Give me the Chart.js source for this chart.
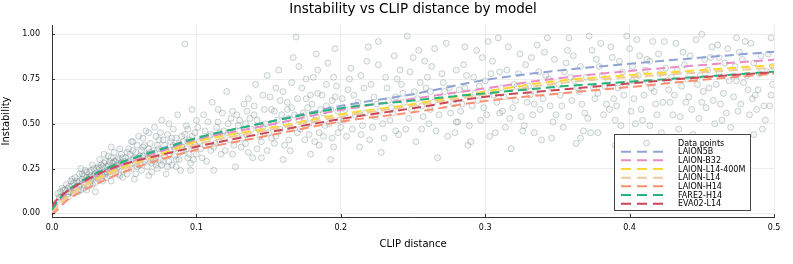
<!DOCTYPE html>
<html>
<head>
<meta charset="utf-8">
<script src="https://cdn.jsdelivr.net/npm/chart.js@4.4.1/dist/chart.umd.min.js"></script>
<style>
  html, body { margin: 0; padding: 0; background: #fff; }
  canvas { display: block; }
</style>
</head>
<body>
<canvas id="instabilityChart" width="793" height="264"></canvas>
<script>
// CLIP distance vs instability, one point per sample
const samplePoints = [
  [0.003,0.06],[0.004,0.11],[0.006,0.09],[0.007,0.14],[0.008,0.10],[0.009,0.13],[0.010,0.16],[0.011,0.09],[0.012,0.12],[0.013,0.18],
  [0.014,0.15],[0.015,0.11],[0.016,0.20],[0.017,0.14],[0.018,0.17],[0.019,0.22],[0.020,0.13],[0.021,0.19],[0.022,0.16],[0.023,0.24],
  [0.024,0.20],[0.025,0.15],[0.026,0.23],[0.027,0.18],[0.028,0.27],[0.029,0.21],[0.030,0.17],[0.031,0.25],[0.032,0.22],[0.033,0.30],
  [0.034,0.19],[0.035,0.26],[0.036,0.23],[0.037,0.29],[0.038,0.20],[0.039,0.32],[0.040,0.25],[0.041,0.18],[0.042,0.28],[0.043,0.34],
  [0.044,0.23],[0.045,0.30],[0.046,0.26],[0.047,0.21],[0.048,0.33],[0.049,0.28],[0.050,0.24],[0.015,0.17],[0.018,0.12],[0.022,0.21],
  [0.025,0.19],[0.028,0.16],[0.031,0.20],[0.034,0.27],[0.037,0.22],[0.040,0.29],[0.043,0.26],[0.046,0.31],[0.049,0.20],[0.012,0.15],
  [0.027,0.24],[0.033,0.25],[0.038,0.26],[0.044,0.29],[0.024,0.13],[0.036,0.33],[0.041,0.37],[0.047,0.36],[0.020,0.25],[0.030,0.12],
  [0.005,0.09],[0.006,0.12],[0.008,0.13],[0.009,0.08],[0.011,0.14],[0.013,0.12],[0.014,0.19],[0.016,0.14],[0.017,0.18],[0.019,0.15],
  [0.021,0.22],[0.023,0.17],[0.024,0.23],[0.026,0.18],[0.027,0.21],[0.029,0.25],[0.030,0.22],[0.032,0.19],[0.033,0.22],[0.035,0.21],
  [0.036,0.28],[0.038,0.23],[0.039,0.27],[0.040,0.21],[0.042,0.24],[0.043,0.29],[0.045,0.25],[0.046,0.22],[0.048,0.28],[0.049,0.31],
  [0.011,0.11],[0.019,0.18],[0.026,0.20],[0.032,0.26],[0.039,0.24],[0.045,0.27],[0.050,0.29],[0.022,0.14],[0.035,0.18],[0.041,0.31],
  [0.051,0.31],[0.052,0.22],[0.053,0.36],[0.054,0.27],[0.055,0.40],[0.056,0.30],[0.057,0.19],[0.058,0.34],[0.059,0.26],[0.060,0.43],
  [0.061,0.32],[0.062,0.24],[0.063,0.37],[0.064,0.29],[0.065,0.46],[0.066,0.33],[0.067,0.21],[0.068,0.39],[0.069,0.28],[0.070,0.35],
  [0.071,0.48],[0.072,0.31],[0.073,0.25],[0.074,0.41],[0.075,0.34],[0.076,0.52],[0.077,0.29],[0.078,0.38],[0.079,0.22],[0.080,0.44],
  [0.081,0.33],[0.082,0.40],[0.083,0.27],[0.084,0.47],[0.085,0.36],[0.086,0.30],[0.087,0.55],[0.088,0.39],[0.089,0.24],[0.090,0.43],
  [0.091,0.35],[0.092,0.946],[0.093,0.49],[0.094,0.31],[0.095,0.41],[0.096,0.28],[0.097,0.58],[0.098,0.37],[0.099,0.45],[0.100,0.33],
  [0.054,0.33],[0.058,0.28],[0.062,0.35],[0.066,0.26],[0.070,0.30],[0.074,0.36],[0.078,0.32],[0.082,0.35],[0.086,0.42],[0.090,0.37],
  [0.094,0.40],[0.098,0.30],[0.060,0.31],[0.068,0.34],[0.076,0.27],[0.084,0.38],[0.092,0.44],[0.064,0.38],[0.072,0.43],[0.080,0.26],
  [0.051,0.27],[0.052,0.34],[0.053,0.29],[0.055,0.25],[0.056,0.35],[0.057,0.31],[0.059,0.38],[0.061,0.27],[0.063,0.32],[0.065,0.30],
  [0.067,0.36],[0.069,0.33],[0.071,0.29],[0.073,0.38],[0.075,0.30],[0.077,0.41],[0.079,0.35],[0.081,0.29],[0.083,0.42],[0.085,0.32],
  [0.087,0.37],[0.089,0.34],[0.091,0.40],[0.093,0.36],[0.095,0.33],[0.097,0.43],[0.099,0.38],[0.056,0.40],[0.063,0.42],[0.069,0.23],
  [0.075,0.45],[0.081,0.50],[0.088,0.30],[0.094,0.47],[0.100,0.52],[0.058,0.22],[0.072,0.27],[0.086,0.26],[0.096,0.24],[0.067,0.45],
  [0.101,0.48],[0.103,0.36],[0.105,0.55],[0.107,0.29],[0.109,0.43],[0.111,0.62],[0.113,0.39],[0.115,0.51],[0.117,0.33],[0.119,0.46],
  [0.121,0.68],[0.123,0.41],[0.125,0.57],[0.127,0.26],[0.129,0.49],[0.131,0.37],[0.133,0.61],[0.135,0.44],[0.137,0.53],[0.139,0.31],
  [0.141,0.72],[0.143,0.47],[0.145,0.40],[0.147,0.58],[0.149,0.35],[0.151,0.65],[0.153,0.50],[0.155,0.43],[0.157,0.80],[0.159,0.55],
  [0.161,0.38],[0.163,0.62],[0.165,0.47],[0.167,0.87],[0.169,0.985],[0.171,0.52],[0.173,0.70],[0.175,0.41],[0.177,0.59],[0.179,0.33],
  [0.181,0.76],[0.183,0.54],[0.185,0.45],[0.187,0.66],[0.189,0.49],[0.191,0.84],[0.193,0.58],[0.195,0.37],[0.197,0.71],[0.199,0.52],
  [0.104,0.42],[0.110,0.35],[0.116,0.45],[0.122,0.50],[0.128,0.43],[0.134,0.39],[0.140,0.55],[0.146,0.48],[0.152,0.42],[0.158,0.63],
  [0.164,0.53],[0.170,0.45],[0.176,0.64],[0.182,0.40],[0.188,0.56],[0.194,0.63],[0.106,0.38],[0.118,0.56],[0.130,0.52],[0.142,0.36],
  [0.154,0.57],[0.166,0.73],[0.178,0.50],[0.190,0.60],[0.198,0.45],[0.112,0.24],[0.136,0.64],[0.160,0.30],[0.184,0.80],[0.196,0.92],
  [0.102,0.40],[0.104,0.31],[0.106,0.46],[0.108,0.51],[0.110,0.44],[0.112,0.37],[0.114,0.48],[0.116,0.40],[0.118,0.43],[0.120,0.35],
  [0.122,0.45],[0.124,0.53],[0.126,0.38],[0.128,0.55],[0.130,0.46],[0.132,0.42],[0.134,0.50],[0.136,0.34],[0.138,0.47],[0.140,0.60],
  [0.142,0.52],[0.144,0.43],[0.146,0.66],[0.148,0.50],[0.150,0.45],[0.152,0.58],[0.154,0.39],[0.156,0.52],[0.158,0.47],[0.160,0.68],
  [0.162,0.50],[0.164,0.41],[0.166,0.59],[0.168,0.55],[0.170,0.64],[0.172,0.47],[0.174,0.56],[0.176,0.75],[0.178,0.44],[0.180,0.61],
  [0.182,0.52],[0.184,0.67],[0.186,0.58],[0.188,0.43],[0.190,0.72],[0.192,0.50],[0.194,0.42],[0.196,0.65],[0.198,0.57],[0.200,0.48],
  [0.115,0.58],[0.125,0.33],[0.135,0.57],[0.145,0.31],[0.155,0.70],[0.165,0.35],[0.175,0.53],[0.185,0.38],[0.195,0.76],[0.149,0.77],
  [0.171,0.82],[0.183,0.89],[0.193,0.30],[0.163,0.58],[0.179,0.66],
  [0.201,0.64],[0.204,0.43],[0.207,0.81],[0.210,0.55],[0.213,0.37],[0.216,0.70],[0.219,0.93],[0.222,0.48],[0.225,0.61],[0.228,0.34],
  [0.231,0.76],[0.234,0.52],[0.237,0.88],[0.240,0.44],[0.243,0.67],[0.246,0.99],[0.249,0.58],[0.252,0.40],[0.255,0.73],[0.258,0.85],
  [0.261,0.50],[0.264,0.62],[0.267,0.31],[0.270,0.78],[0.273,0.95],[0.276,0.56],[0.279,0.45],[0.282,0.69],[0.285,0.83],[0.288,0.38],
  [0.291,0.60],[0.294,0.91],[0.297,0.52],[0.300,0.74],[0.303,0.43],[0.306,0.66],[0.309,0.98],[0.312,0.57],[0.315,0.80],[0.318,0.36],
  [0.321,0.63],[0.324,0.89],[0.327,0.49],[0.330,0.71],[0.333,0.55],[0.336,0.94],[0.339,0.41],[0.342,0.77],[0.345,0.60],[0.348,0.86],
  [0.203,0.58],[0.209,0.66],[0.215,0.49],[0.221,0.72],[0.227,0.57],[0.233,0.63],[0.239,0.75],[0.245,0.47],[0.251,0.68],[0.257,0.54],
  [0.263,0.82],[0.269,0.64],[0.275,0.70],[0.281,0.51],[0.287,0.77],[0.293,0.67],[0.299,0.59],[0.305,0.85],[0.311,0.70],[0.317,0.53],
  [0.323,0.78],[0.329,0.62],[0.335,0.68],[0.341,0.90],[0.347,0.51],[0.212,0.62],[0.230,0.42],[0.248,0.79],[0.266,0.46],[0.284,0.61],
  [0.302,0.96],[0.320,0.72],[0.338,0.58],[0.218,0.85],[0.236,0.56],[0.254,0.91],[0.272,0.68],[0.290,0.40],[0.308,0.62],[0.326,0.46],
  [0.344,0.75],
  [0.202,0.52],[0.205,0.69],[0.208,0.47],[0.211,0.60],[0.214,0.77],[0.217,0.56],[0.220,0.41],[0.223,0.65],[0.226,0.83],[0.229,0.50],
  [0.232,0.70],[0.235,0.59],[0.238,0.46],[0.241,0.80],[0.244,0.62],[0.247,0.53],[0.250,0.87],[0.253,0.64],[0.256,0.47],[0.259,0.70],
  [0.262,0.58],[0.265,0.92],[0.268,0.55],[0.271,0.73],[0.274,0.43],[0.277,0.66],[0.280,0.80],[0.283,0.57],[0.286,0.70],[0.289,0.49],
  [0.292,0.76],[0.295,0.63],[0.298,0.87],[0.301,0.55],[0.304,0.68],[0.307,0.45],[0.310,0.79],[0.313,0.65],[0.316,0.93],[0.319,0.59],
  [0.322,0.71],[0.325,0.54],[0.328,0.83],[0.331,0.66],[0.334,0.45],[0.337,0.79],[0.340,0.64],[0.343,0.98],[0.346,0.70],[0.349,0.55],
  [0.206,0.75],[0.224,0.54],[0.242,0.72],[0.260,0.76],[0.278,0.61],[0.296,0.71],[0.314,0.48],[0.332,0.87],[0.214,0.44],[0.238,0.65],
  [0.262,0.68],[0.286,0.93],[0.310,0.56],[0.334,0.61],[0.226,0.96],[0.256,0.60],[0.280,0.51],[0.304,0.78],[0.328,0.70],[0.346,0.42],
  [0.351,0.72],[0.354,0.48],[0.357,0.91],[0.360,0.63],[0.363,0.39],[0.366,0.82],[0.369,0.56],[0.372,0.99],[0.375,0.70],[0.378,0.45],
  [0.381,0.77],[0.384,0.61],[0.387,0.93],[0.390,0.52],[0.393,0.85],[0.396,0.66],[0.399,0.41],[0.402,0.74],[0.405,0.97],[0.408,0.58],
  [0.411,0.80],[0.414,0.49],[0.417,0.68],[0.420,0.89],[0.423,0.62],[0.426,0.37],[0.429,0.76],[0.432,0.95],[0.435,0.54],[0.438,0.83],
  [0.441,0.65],[0.444,0.44],[0.447,0.72],[0.450,1.00],[0.453,0.59],[0.456,0.87],[0.459,0.50],[0.462,0.78],[0.465,0.67],[0.468,0.92],
  [0.471,0.42],[0.474,0.74],[0.477,0.61],[0.480,0.96],[0.483,0.55],[0.486,0.84],[0.489,0.69],[0.492,0.47],[0.495,0.79],[0.498,0.98],
  [0.353,0.60],[0.359,0.76],[0.365,0.68],[0.371,0.53],[0.377,0.86],[0.383,0.71],[0.389,0.64],[0.395,0.79],[0.401,0.57],[0.407,0.88],
  [0.413,0.73],[0.419,0.55],[0.425,0.81],[0.431,0.66],[0.437,0.90],[0.443,0.58],[0.449,0.77],[0.455,0.70],[0.461,0.94],[0.467,0.56],
  [0.473,0.82],[0.479,0.73],[0.485,0.64],[0.491,0.88],[0.497,0.60],[0.356,0.84],[0.368,0.46],[0.380,0.95],[0.392,0.70],[0.404,0.50],
  [0.416,0.96],[0.428,0.62],[0.440,0.75],[0.452,0.86],[0.464,0.52],[0.476,0.90],[0.488,0.58],[0.499,0.72],[0.362,0.74],[0.386,0.58],
  [0.410,0.66],[0.434,0.47],[0.458,0.63],[0.482,0.69],
  [0.352,0.66],[0.355,0.79],[0.358,0.54],[0.361,0.88],[0.364,0.70],[0.367,0.61],[0.370,0.76],[0.373,0.45],[0.376,0.64],[0.379,0.82],
  [0.382,0.55],[0.385,0.74],[0.388,0.87],[0.391,0.60],[0.394,0.49],[0.397,0.72],[0.400,0.92],[0.403,0.64],[0.406,0.77],[0.409,0.52],
  [0.412,0.86],[0.415,0.70],[0.418,0.61],[0.421,0.78],[0.424,0.96],[0.427,0.69],[0.430,0.55],[0.433,0.80],[0.436,0.71],[0.439,0.62],
  [0.442,0.88],[0.445,0.75],[0.448,0.53],[0.451,0.68],[0.454,0.80],[0.457,0.93],[0.460,0.72],[0.463,0.61],[0.466,0.84],[0.469,0.74],
  [0.472,0.65],[0.475,0.57],[0.478,0.86],[0.481,0.77],[0.484,0.95],[0.487,0.66],[0.490,0.78],[0.493,0.60],[0.496,0.89],[0.499,0.82],
  [0.358,0.98],[0.374,0.91],[0.398,0.99],[0.422,0.45],[0.446,0.97],[0.470,0.48],[0.494,0.52],[0.366,0.42],[0.390,0.38],[0.414,0.85],
  [0.438,0.40],[0.462,0.87],[0.486,0.44],[0.378,0.67],[0.402,0.82],[0.426,0.74],[0.450,0.62],[0.474,0.98],[0.498,0.66]
];

// fitted curves, sampled at these distances
const fitX = [0, 0.005, 0.01, 0.02, 0.035, 0.05, 0.075, 0.1, 0.15, 0.2, 0.25, 0.3, 0.35, 0.4, 0.45, 0.5];

const modelNames = ['LAION5B', 'LAION-B32', 'LAION-L14-400M', 'LAION-L14', 'LAION-H14', 'FARE2-H14', 'EVA02-L14'];
const modelColors = ['#8fa3d4', '#ea8cc6', '#fdd835', '#efcb9a', '#fc9070', '#25b47a', '#c8485a'];

const fitLAION5B  = [0.02, 0.08, 0.12, 0.175, 0.24, 0.29, 0.36, 0.42, 0.51, 0.60, 0.665, 0.745, 0.797, 0.835, 0.87, 0.903];
const fitLAIONB32 = [0.01, 0.07, 0.11, 0.165, 0.225, 0.275, 0.345, 0.41, 0.493, 0.577, 0.64, 0.698, 0.754, 0.795, 0.828, 0.858];
const fitL14_400M = [0.0, 0.05, 0.09, 0.145, 0.21, 0.26, 0.33, 0.40, 0.475, 0.553, 0.61, 0.68, 0.739, 0.772, 0.80, 0.828];
const fitLAIONL14 = [0.0, 0.05, 0.085, 0.14, 0.20, 0.25, 0.32, 0.385, 0.465, 0.54, 0.60, 0.665, 0.726, 0.76, 0.788, 0.813];
const fitLAIONH14 = [-0.01, 0.03, 0.07, 0.12, 0.18, 0.232, 0.30, 0.354, 0.434, 0.512, 0.564, 0.627, 0.668, 0.705, 0.745, 0.78];
const fitFARE2    = [0.02, 0.08, 0.12, 0.177, 0.24, 0.29, 0.355, 0.42, 0.51, 0.587, 0.63, 0.67, 0.707, 0.735, 0.763, 0.791];
const fitEVA02    = [0.04, 0.09, 0.12, 0.17, 0.23, 0.275, 0.325, 0.372, 0.452, 0.527, 0.587, 0.651, 0.689, 0.725, 0.76, 0.788];
const fitSeries = [fitLAION5B, fitLAIONB32, fitL14_400M, fitLAIONL14, fitLAIONH14, fitFARE2, fitEVA02];

const xTickValues = [0, 0.1, 0.2, 0.3, 0.4, 0.5];
const yTickValues = [0, 0.25, 0.5, 0.75, 1.0];

const FONT = 'DejaVu Sans';
const pointStroke = 'rgba(95,115,115,0.30)';
const pointFill = 'rgba(160,178,178,0.10)';

const datasets = [{
    type: 'scatter',
    label: 'Data points',
    data: samplePoints.map(p => ({ x: p[0], y: p[1] })),
    pointRadius: 3,
    pointBorderWidth: 1,
    pointBorderColor: pointStroke,
    pointBackgroundColor: pointFill,
    order: 20
}];

fitSeries.forEach((vals, i) => {
    datasets.push({
        type: 'line',
        label: modelNames[i],
        data: fitX.map((x, j) => ({ x: x, y: vals[j] })),
        borderColor: modelColors[i],
        borderWidth: 2,
        borderDash: [9, 5],
        pointRadius: 0,
        fill: false,
        cubicInterpolationMode: 'monotone',
        order: 10 - i
    });
});

// small inward ticks like the original plot
const innerTicks = {
    id: 'innerTicks',
    afterDatasetsDraw(chart) {
        const { ctx, chartArea, scales } = chart;
        ctx.save();
        ctx.strokeStyle = '#333';
        ctx.lineWidth = 1;
        ctx.beginPath();
        xTickValues.forEach(v => {
            const px = Math.round(scales.x.getPixelForValue(v)) + 0.5;
            ctx.moveTo(px, chartArea.bottom);
            ctx.lineTo(px, chartArea.bottom - 3);
        });
        yTickValues.forEach(v => {
            const py = Math.round(scales.y.getPixelForValue(v)) + 0.5;
            ctx.moveTo(chartArea.left, py);
            ctx.lineTo(chartArea.left + 3, py);
        });
        ctx.stroke();
        ctx.restore();
    }
};

// legend box drawn inside the plot, bottom right
const boxLegend = {
    id: 'boxLegend',
    afterDraw(chart) {
        const ctx = chart.ctx;
        const left = 614.5, top = 134.5, w = 136, h = 76;
        const rowH = 8.67, firstRow = 143;
        ctx.save();
        ctx.fillStyle = '#fff';
        ctx.fillRect(left, top, w, h);
        ctx.strokeStyle = '#444';
        ctx.lineWidth = 1;
        ctx.strokeRect(left, top, w, h);
        ctx.font = '8px "' + FONT + '"';
        ctx.textBaseline = 'middle';
        ctx.textAlign = 'left';
        chart.data.datasets.forEach((ds, i) => {
            const y = firstRow + i * rowH;
            if (ds.type === 'scatter') {
                ctx.beginPath();
                ctx.arc(646.5, y, 3, 0, Math.PI * 2);
                ctx.fillStyle = pointFill;
                ctx.fill();
                ctx.strokeStyle = pointStroke;
                ctx.stroke();
            } else {
                ctx.beginPath();
                ctx.setLineDash([10, 6]);
                ctx.strokeStyle = ds.borderColor;
                ctx.lineWidth = 2;
                ctx.moveTo(621, y);
                ctx.lineTo(669, y);
                ctx.stroke();
                ctx.setLineDash([]);
                ctx.lineWidth = 1;
            }
            ctx.fillStyle = '#000';
            ctx.fillText(ds.label, 678, y + 0.5);
        });
        ctx.restore();
    }
};

new Chart(document.getElementById('instabilityChart').getContext('2d'), {
    data: { datasets: datasets },
    options: {
        responsive: false,
        animation: false,
        layout: { padding: { left: 0, right: 19, top: 0, bottom: 0 } },
        plugins: {
            legend: { display: false },
            tooltip: { enabled: false },
            title: {
                display: true,
                text: 'Instability vs CLIP distance by model',
                fullSize: false,
                color: '#000',
                font: { family: FONT, size: 13.5, weight: 'normal' },
                padding: { top: 1, bottom: 7.8 }
            }
        },
        scales: {
            x: {
                type: 'linear',
                min: 0,
                max: 0.5,
                afterBuildTicks: s => { s.ticks = xTickValues.map(v => ({ value: v })); },
                afterFit: s => { s.height = 47; },
                grid: { color: 'rgba(0,0,0,0.07)', drawTicks: false },
                border: { display: true, color: '#333', width: 1 },
                ticks: {
                    color: '#000',
                    padding: 6,
                    maxRotation: 0,
                    font: { family: FONT, size: 8 },
                    callback: v => v.toFixed(1)
                },
                title: {
                    display: true,
                    text: 'CLIP distance',
                    color: '#000',
                    font: { family: FONT, size: 10 },
                    padding: { top: 0, bottom: 14 }
                }
            },
            y: {
                type: 'linear',
                min: -0.021,
                max: 1.052,
                afterBuildTicks: s => { s.ticks = yTickValues.map(v => ({ value: v })); },
                afterFit: s => { s.width = 52; },
                grid: { color: 'rgba(0,0,0,0.07)', drawTicks: false },
                border: { display: true, color: '#333', width: 1 },
                ticks: {
                    color: '#000',
                    padding: 12,
                    font: { family: FONT, size: 8 },
                    callback: v => v.toFixed(2)
                },
                title: {
                    display: true,
                    text: 'Instability',
                    color: '#000',
                    font: { family: FONT, size: 10 },
                    padding: { top: 0, bottom: 0 }
                }
            }
        }
    },
    plugins: [innerTicks, boxLegend]
});
</script>
</body>
</html>
